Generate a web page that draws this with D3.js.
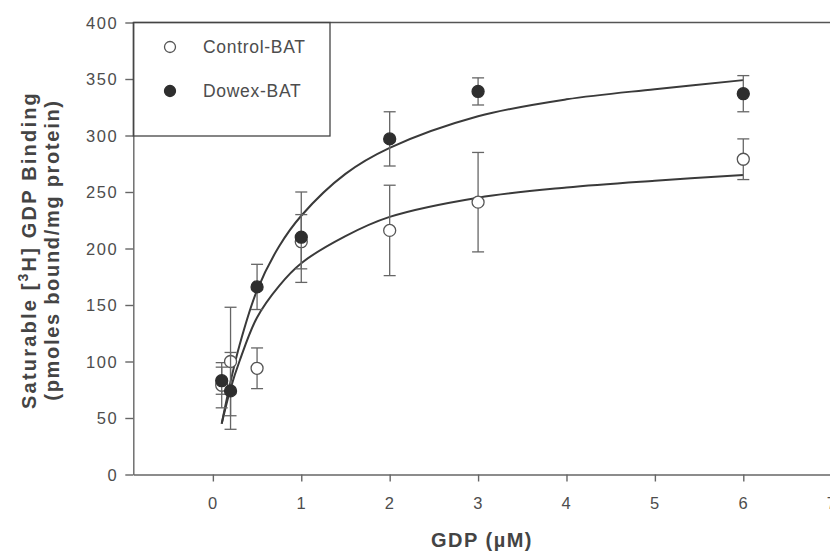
<!DOCTYPE html>
<html>
<head>
<meta charset="utf-8">
<script src="https://cdn.jsdelivr.net/npm/d3@7"></script>
<style>
  body { margin: 0; background: #fff; }
  svg text { font-family: "Liberation Sans", Arial, sans-serif; }
</style>
</head>
<body>
<div id="target_div"></div>
<script>
// data
var gdp = [0.1, 0.2, 0.5, 1, 2, 3, 6];
var control_y = [79, 100, 94, 206, 216, 241, 279];
var control_err = [20, 48, 18, 24, 40, 44, 18];
var dowex_y = [83, 74, 166, 210, 297, 339, 337];
var dowex_err = [12, 34, 20, 40, 24, 12, 16];

// fitted curves
var fit_x = [0.1, 0.2, 0.3, 0.5, 0.75, 1, 1.5, 2, 3, 4, 5, 6];
var control_fit = [45, 76, 100, 139, 167, 187, 211, 228, 245, 254, 260, 265];
var dowex_fit = [45, 82, 114, 163, 202, 229, 266, 289, 317, 332, 341, 349];

var x_ticks = [0, 1, 2, 3, 4, 5, 6, 7];
var y_ticks = [0, 50, 100, 150, 200, 250, 300, 350, 400];
var legend_labels = ['Control-BAT', 'Dowex-BAT'];

var W = 830, H = 554;
var plot = {left: 133.3, right: 831.7, top: 22.5, bottom: 474.5};

var mapX = d3.scaleLinear().domain([-0.9, 7]).range([plot.left, plot.right]);
var mapY = d3.scaleLinear().domain([0, 400]).range([plot.bottom, plot.top]);

var svg = d3.select('#target_div')
  .append('svg')
  .attr('width', W)
  .attr('height', H);

var axis_color = '#666';
var text_color = '#4d4d4d';

// axes
var xAxis = d3.axisBottom(mapX).tickValues(x_ticks).tickSize(7).tickSizeOuter(0)
  .tickFormat(d3.format('d'));
var yAxis = d3.axisLeft(mapY).tickValues(y_ticks).tickSize(8).tickSizeOuter(0);

var gx = svg.append('g')
  .attr('transform', `translate(0, ${plot.bottom})`)
  .call(xAxis);
var gy = svg.append('g')
  .attr('transform', `translate(${plot.left}, 0)`)
  .call(yAxis);

[gx, gy].forEach(function (g) {
  g.attr('font-size', null);
  g.selectAll('path, line').attr('stroke', axis_color).attr('stroke-width', 1.4);
  g.selectAll('text')
    .attr('fill', text_color)
    .style('font-size', '16.5px')
    .style('letter-spacing', '1.6px');
});
gx.selectAll('text').attr('dy', null).attr('y', 34);
gy.selectAll('text').attr('x', -15).attr('dy', '0.35em');

// top frame line
svg.append('line')
  .attr('x1', plot.left).attr('x2', W)
  .attr('y1', mapY(400)).attr('y2', mapY(400))
  .attr('stroke', '#555').attr('stroke-width', 1.5);

// fitted curves
var lineGen = d3.line()
  .x((d, i) => mapX(fit_x[i]))
  .y((d, i) => mapY(d))
  .curve(d3.curveCatmullRom.alpha(0.5));

[control_fit, dowex_fit].forEach(function (fit) {
  svg.append('path')
    .attr('d', lineGen(fit))
    .style('fill', 'none')
    .style('stroke', '#3a3a3a')
    .style('stroke-width', 2);
});

// error bars and markers, control first so dowex sits on top
var cap = 6, r = 6;
var series = [
  {y: control_y, err: control_err, fill: '#fff', stroke: '#555'},
  {y: dowex_y, err: dowex_err, fill: '#2e2e2e', stroke: '#2e2e2e'}
];

series.forEach(function (s) {
  var g = svg.append('g');
  gdp.forEach(function (x, i) {
    var cx = mapX(x);
    var hi = mapY(s.y[i] + s.err[i]), lo = mapY(s.y[i] - s.err[i]);
    g.append('line').attr('x1', cx).attr('x2', cx).attr('y1', hi).attr('y2', lo)
      .attr('stroke', axis_color).attr('stroke-width', 1.3);
    g.append('line').attr('x1', cx - cap).attr('x2', cx + cap).attr('y1', hi).attr('y2', hi)
      .attr('stroke', axis_color).attr('stroke-width', 1.3);
    g.append('line').attr('x1', cx - cap).attr('x2', cx + cap).attr('y1', lo).attr('y2', lo)
      .attr('stroke', axis_color).attr('stroke-width', 1.3);
  });
  g.selectAll('circle')
    .data(s.y)
    .enter()
    .append('circle')
    .attr('cx', (d, i) => mapX(gdp[i]))
    .attr('cy', (d, i) => mapY(d))
    .attr('r', r)
    .attr('fill', s.fill)
    .attr('stroke', s.stroke)
    .attr('stroke-width', 1.3);
});

// legend box
svg.append('rect')
  .attr('x', plot.left).attr('y', plot.top)
  .attr('width', 330 - plot.left).attr('height', 136 - plot.top)
  .attr('fill', 'none')
  .attr('stroke', '#444').attr('stroke-width', 1.3);

legend_labels.forEach(function (label, i) {
  var ly = 47 + i * 44;
  svg.append('circle')
    .attr('cx', 170).attr('cy', ly).attr('r', 5.5)
    .attr('fill', series[i].fill)
    .attr('stroke', series[i].stroke)
    .attr('stroke-width', 1.3);
  svg.append('text')
    .attr('x', 203).attr('y', ly + 6)
    .attr('fill', text_color)
    .style('font-size', '17.5px')
    .style('letter-spacing', '0.7px')
    .text(label);
});

// axis titles
svg.append('text')
  .attr('x', 482).attr('y', 547)
  .attr('text-anchor', 'middle')
  .attr('fill', '#444')
  .style('font-size', '20px')
  .style('font-weight', 'bold')
  .style('letter-spacing', '1.5px')
  .text('GDP (\u00b5M)');

var ylabel = svg.append('g')
  .attr('transform', `translate(0, 250) rotate(-90)`);

var t1 = ylabel.append('text')
  .attr('x', 0).attr('y', 36)
  .attr('text-anchor', 'middle')
  .attr('fill', '#444')
  .style('font-size', '20px')
  .style('font-weight', 'bold')
  .style('letter-spacing', '2.2px');
t1.append('tspan').text('Saturable [');
t1.append('tspan').attr('dy', -8).style('font-size', '14px').text('3');
t1.append('tspan').attr('dy', 8).text('H] GDP Binding');

ylabel.append('text')
  .attr('x', 0).attr('y', 59)
  .attr('text-anchor', 'middle')
  .attr('fill', '#444')
  .style('font-size', '20px')
  .style('font-weight', 'bold')
  .style('letter-spacing', '1.7px')
  .text('(pmoles bound/mg protein)');
</script>
</body>
</html>
